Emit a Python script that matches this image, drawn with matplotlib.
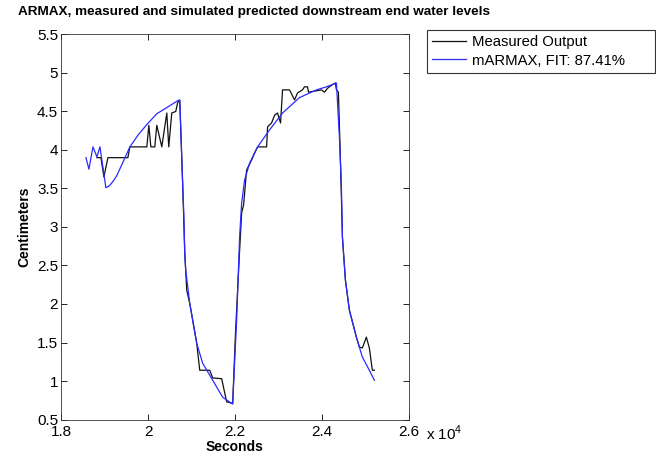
import numpy as np
import matplotlib
matplotlib.use("Agg")
import matplotlib.pyplot as plt

plt.rcParams['font.family'] = ['Liberation Sans', 'DejaVu Sans']
plt.rcParams['mathtext.fontset'] = 'custom'
plt.rcParams['mathtext.rm'] = 'Liberation Sans'

# measured output (seconds, cm)
meas_t = [18826, 18918, 18986, 19078, 19537, 19583, 19973, 20019, 20065, 20156,
          20202, 20317, 20432, 20477, 20546, 20638, 20684, 20730, 20799, 20845,
          20890, 20959, 21120, 21189, 21418, 21487, 21693, 21808, 21946, 22014,
          22106, 22152, 22198, 22267, 22382, 22450, 22519, 22726, 22749, 22840,
          22909, 22978, 23047, 23093, 23253, 23368, 23437, 23551, 23597, 23666,
          23689, 23987, 24056, 24125, 24217, 24308, 24331, 24377, 24423, 24469,
          24538, 24629, 24790, 24859, 24928, 25019, 25088, 25157, 25203]
meas_y = [3.90, 3.90, 3.65, 3.90, 3.90, 4.04, 4.04, 4.32, 4.04, 4.04,
          4.32, 4.04, 4.48, 4.04, 4.48, 4.50, 4.62, 4.64, 3.52, 2.66,
          2.18, 2.01, 1.49, 1.14, 1.14, 1.04, 1.03, 0.73, 0.71, 1.66,
          2.70, 3.18, 3.29, 3.74, 3.87, 3.96, 4.04, 4.04, 4.30, 4.35,
          4.45, 4.48, 4.35, 4.78, 4.78, 4.65, 4.74, 4.78, 4.82, 4.82,
          4.75, 4.78, 4.75, 4.80, 4.84, 4.87, 4.78, 4.75, 3.87, 2.87,
          2.31, 1.92, 1.57, 1.44, 1.43, 1.57, 1.43, 1.14, 1.14]

# ARMAX simulated output
sim_t = [18573, 18642, 18734, 18826, 18895, 19032, 19100, 19180, 19277, 19423,
         19583, 19780, 19973, 20202, 20432, 20684, 20730, 20799, 20822, 20845,
         20867, 20959, 21120, 21257, 21487, 21716, 21946, 22037, 22106, 22152,
         22221, 22336, 22519, 22794, 23093, 23483, 23873, 24102, 24331, 24400,
         24446, 24469, 24538, 24629, 24790, 24928, 25088, 25203]
sim_y = [3.90, 3.75, 4.04, 3.91, 4.04, 3.51, 3.53, 3.58, 3.66, 3.84,
         4.04, 4.20, 4.33, 4.47, 4.55, 4.64, 4.65, 3.52, 3.18, 2.66,
         2.44, 2.01, 1.49, 1.23, 1.01, 0.79, 0.70, 1.79, 2.87, 3.31,
         3.61, 3.83, 4.04, 4.26, 4.48, 4.68, 4.78, 4.82, 4.87, 4.17,
         3.52, 2.87, 2.31, 1.92, 1.57, 1.31, 1.14, 1.01]

xticks = [18000, 20000, 22000, 24000, 26000]
xlabels = ['1.8', '2', '2.2', '2.4', '2.6']
yticks = [0.5, 1, 1.5, 2, 2.5, 3, 3.5, 4, 4.5, 5, 5.5]
ylabels = ['0.5', '1', '1.5', '2', '2.5', '3', '3.5', '4', '4.5', '5', '5.5']

fig = plt.figure(figsize=(6.56, 4.59), dpi=100)
ax = fig.add_axes([0.093, 0.086, 0.5305, 0.839])

l1, = ax.plot(meas_t, meas_y, color='#111111', lw=0.9)
l2, = ax.plot(sim_t, sim_y, color='#2a2aff', lw=0.9)

ax.set_xlim(18000, 26000)
ax.set_ylim(0.5, 5.5)
ax.set_xticks(xticks)
ax.set_xticklabels(xlabels)
ax.set_yticks(yticks)
ax.set_yticklabels(ylabels)
ax.tick_params(direction='in', top=True, right=True, labelsize=11, length=4,
               width=0.6)
ax.tick_params(axis='x', pad=4)
ax.tick_params(axis='y', pad=2)
for s in ax.spines.values():
    s.set_linewidth(0.6)
    s.set_color('#333333')

ax.set_xlabel('Seconds', fontweight='bold', fontsize=10, labelpad=1)
ax.set_ylabel('Centimeters', fontweight='bold', fontsize=10, labelpad=4)

# exponent label like matlab
fig.text(426 / 656, 1 - 433 / 459, r'x 10$^{4}$', fontsize=11,
         va='center', ha='left')

fig.text(18 / 656, 1 - 12 / 459,
         'ARMAX, measured and simulated predicted downstream end water levels',
         fontweight='bold', fontsize=9.7, va='center', ha='left')

leg = fig.legend([l1, l2], ['Measured Output', 'mARMAX, FIT: 87.41%'],
                 loc='upper left', mode='expand',
                 bbox_to_anchor=(427 / 656, 1 - 73 / 459, 228 / 656, 43 / 459),
                 fontsize=10.7, frameon=True, fancybox=False, handlelength=2.3,
                 borderpad=0.35, labelspacing=0.3, handletextpad=0.4,
                 borderaxespad=0)
leg.get_frame().set_edgecolor('black')
leg.get_frame().set_linewidth(0.8)

fig.savefig('out.png', dpi=100)
